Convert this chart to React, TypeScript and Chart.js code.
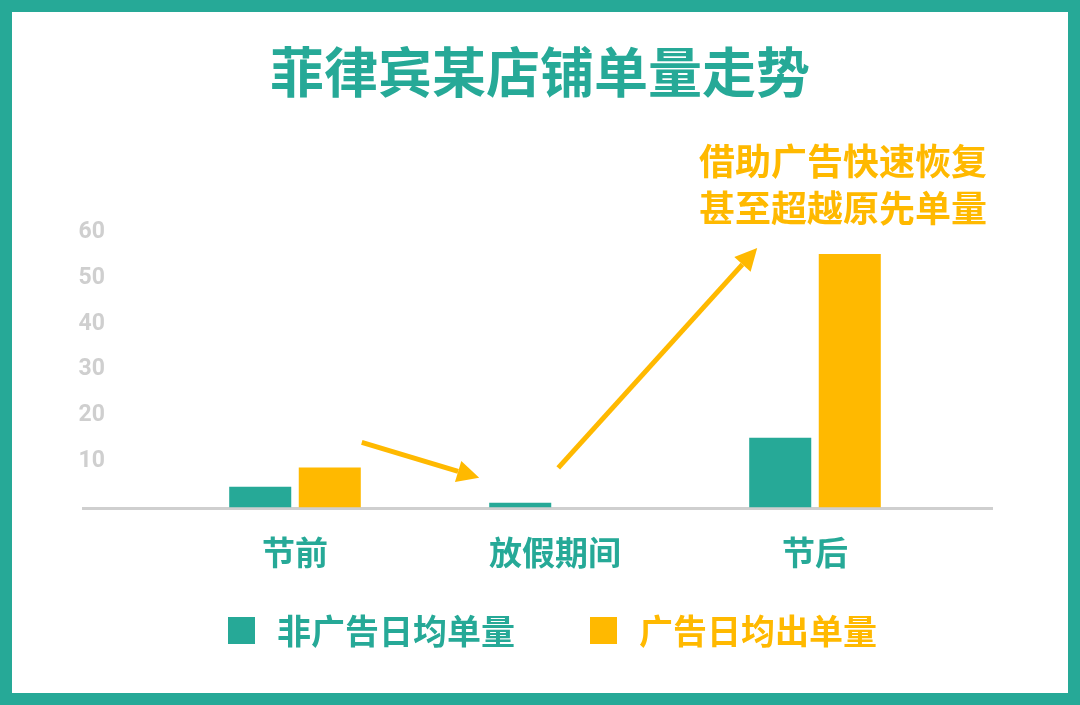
import { useEffect, useRef } from "react";
import { Chart, registerables, type Plugin } from "chart.js";

Chart.register(...registerables);

const TEAL = "#26a997";
const ORANGE = "#ffb900";
const CJK = '"Noto Sans CJK SC", "Noto Sans", sans-serif';

// data
const categories = ["节前", "放假期间", "节后"];
const seriesNames = ["非广告日均单量", "广告日均出单量"];
const seriesColors = [TEAL, ORANGE];
const nonAdOrders = [4.5, 1, 15.2];
const adOrders = [8.7, 0, 55.2];
const yTicks = [10, 20, 30, 40, 50, 60];

const TITLE = "菲律宾某店铺单量走势";
const NOTE = ["借助广告快速恢复", "甚至超越原先单量"];

function drawArrow(ctx: CanvasRenderingContext2D, x1: number, y1: number, x2: number, y2: number) {
  const ang = Math.atan2(y2 - y1, x2 - x1);
  const head = 22;
  const half = 11;
  const bx = x2 - head * Math.cos(ang);
  const by = y2 - head * Math.sin(ang);
  ctx.lineWidth = 5;
  ctx.beginPath();
  ctx.moveTo(x1, y1);
  ctx.lineTo(bx, by);
  ctx.stroke();
  ctx.beginPath();
  ctx.moveTo(x2, y2);
  ctx.lineTo(bx + half * Math.sin(ang), by - half * Math.cos(ang));
  ctx.lineTo(bx - half * Math.sin(ang), by + half * Math.cos(ang));
  ctx.closePath();
  ctx.fill();
}

// grey baseline + trend arrows, placed off the drawn bars
const decor: Plugin<"bar"> = {
  id: "decor",
  beforeDatasetsDraw(chart) {
    const { ctx, chartArea, scales } = chart;
    const y0 = scales.y.getPixelForValue(0);
    ctx.save();
    ctx.strokeStyle = "#cfcfcf";
    ctx.lineWidth = 3;
    ctx.beginPath();
    ctx.moveTo(chartArea.left - 83, y0 + 1);
    ctx.lineTo(chartArea.right + 48, y0 + 1);
    ctx.stroke();
    ctx.restore();
  },
  afterDatasetsDraw(chart) {
    const { ctx } = chart;
    const teal = chart.getDatasetMeta(0).data as any[];
    const orng = chart.getDatasetMeta(1).data as any[];
    if (!teal.length || !orng.length) return;
    ctx.save();
    ctx.strokeStyle = ORANGE;
    ctx.fillStyle = ORANGE;
    // drop into the holiday
    drawArrow(
      ctx,
      orng[0].x + orng[0].width / 2 + 1, orng[0].y - 25,
      teal[1].x - teal[1].width / 2 - 10, teal[1].y - 25,
    );
    // recovery after the holiday
    drawArrow(
      ctx,
      teal[1].x + teal[1].width / 2 + 7, teal[1].y - 35,
      teal[2].x - teal[2].width / 2 + 8, orng[2].y - 6,
    );
    ctx.restore();
  },
};

export default function App() {
  const canvasRef = useRef<HTMLCanvasElement>(null);

  useEffect(() => {
    if (!canvasRef.current) return;
    Chart.defaults.font.family = CJK;

    const chart = new Chart(canvasRef.current, {
      type: "bar",
      data: {
        labels: categories,
        datasets: [
          { label: seriesNames[0], data: nonAdOrders, backgroundColor: seriesColors[0] },
          { label: seriesNames[1], data: adOrders, backgroundColor: seriesColors[1] },
        ],
      },
      options: {
        animation: false,
        responsive: true,
        maintainAspectRatio: false,
        categoryPercentage: 0.535,
        barPercentage: 0.892,
        layout: { padding: { top: 220, left: 66, right: 123, bottom: 96 } },
        scales: {
          x: {
            grid: { display: false, drawTicks: false },
            border: { display: false },
            ticks: {
              color: TEAL,
              padding: 25,
              font: { family: CJK, size: 33, weight: "bold" },
            },
          },
          y: {
            min: 0,
            max: 60,
            grid: { display: false, drawTicks: false },
            border: { display: false },
            afterFit(scale) {
              scale.width = 87;
            },
            afterBuildTicks(scale) {
              scale.ticks = yTicks.map((v) => ({ value: v }));
            },
            ticks: {
              color: "#cfcfcf",
              padding: 60,
              font: { family: "Roboto", size: 23, weight: "bold" },
            },
          },
        },
        plugins: {
          title: { display: false },
          tooltip: { enabled: false },
          legend: { display: false },
        },
      },
      plugins: [decor],
    });

    return () => chart.destroy();
  }, []);

  return (
    <div
      style={{
        position: "fixed",
        left: 0,
        top: 0,
        width: 1080,
        height: 705,
        boxSizing: "border-box",
        border: `12px solid ${TEAL}`,
        background: "#ffffff",
        fontFamily: CJK,
      }}
    >
      <div
        style={{
          position: "absolute",
          left: 0,
          right: 0,
          top: 27,
          textAlign: "center",
          color: TEAL,
          fontSize: 54,
          lineHeight: "62px",
          fontWeight: 700,
        }}
      >
        {TITLE}
      </div>
      <div style={{ position: "absolute", inset: 0 }}>
        <canvas ref={canvasRef} />
      </div>
      <div
        style={{
          position: "absolute",
          left: 687,
          top: 124,
          color: ORANGE,
          fontSize: 36,
          lineHeight: "47px",
          fontWeight: 700,
          whiteSpace: "nowrap",
        }}
      >
        {NOTE.map((line) => (
          <div key={line}>{line}</div>
        ))}
      </div>
      <div
        style={{
          position: "absolute",
          left: 216,
          top: 598,
          display: "flex",
          alignItems: "center",
          fontSize: 34,
          lineHeight: "40px",
          fontWeight: 700,
          whiteSpace: "nowrap",
        }}
      >
        {seriesNames.map((name, i) => (
          <div
            key={name}
            style={{ display: "flex", alignItems: "center", marginRight: i === 0 ? 75 : 0 }}
          >
            <span
              style={{ width: 27, height: 27, background: seriesColors[i], marginRight: 22 }}
            />
            <span style={{ color: seriesColors[i] }}>{name}</span>
          </div>
        ))}
      </div>
    </div>
  );
}
